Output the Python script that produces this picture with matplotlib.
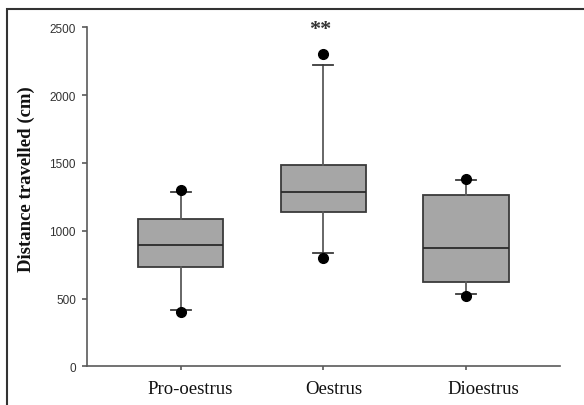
import matplotlib
matplotlib.use("Agg")
import matplotlib.pyplot as plt
from matplotlib.patches import Rectangle
from matplotlib.transforms import ScaledTranslation

# values
groups = ["Pro-oestrus", "Oestrus", "Dioestrus"]
q1 = [730, 1138, 619]
median = [895, 1283, 875]
q3 = [1084, 1487, 1263]
whislo = [417, 835, 531]
whishi = [1283, 2222, 1372]
outliers = [[400, 1300], [800, 2300], [520, 1380]]
yticks = [0, 500, 1000, 1500, 2000, 2500]

fig = plt.figure(figsize=(5.84, 4.06), dpi=100)
ax = fig.add_axes([87/584, 1 - 367.3/406, (560 - 87)/584, (367.3 - 28.3)/406])

stats = []
for i, g in enumerate(groups):
    stats.append(dict(label=g, q1=q1[i], med=median[i], q3=q3[i],
                      whislo=whislo[i], whishi=whishi[i], fliers=outliers[i]))

pos = [1, 2, 3]
ax.bxp(stats, positions=pos, widths=0.6, patch_artist=True,
       capwidths=0.14,
       boxprops=dict(facecolor="#a6a6a6", edgecolor="#3a3a3a", linewidth=1.3),
       medianprops=dict(color="#2a2a2a", linewidth=1.3),
       whiskerprops=dict(color="#5a5a5a", linewidth=1.3),
       capprops=dict(color="#3a3a3a", linewidth=1.3),
       flierprops=dict(marker="o", markerfacecolor="black", markeredgecolor="black",
                       markersize=7, linestyle="none"))

ax.set_xlim(0.345, 3.657)
ax.set_ylim(0, 2500)
ax.set_yticks(yticks)
ax.set_xticks(pos)
ax.set_xticklabels(groups, family="Liberation Serif", fontsize=13.5, color="#111111")
ax.set_yticklabels([str(t) for t in yticks], family="Liberation Sans", fontsize=8.5, color="#333333")

for sp in ["top", "right"]:
    ax.spines[sp].set_visible(False)
for sp in ["left", "bottom"]:
    ax.spines[sp].set_color("#5a5a5a")
    ax.spines[sp].set_linewidth(1.2)
ax.tick_params(axis="y", direction="out", length=3.6, width=1.2, color="#5a5a5a", pad=4.3)
ax.tick_params(axis="x", direction="out", length=2.9, width=1.2, color="#5a5a5a", pad=7)

# labels sit a little right of their ticks in the original
shifts = [10, 10, 17]
for lab, dx in zip(ax.get_xticklabels(), shifts):
    lab.set_transform(lab.get_transform() + ScaledTranslation(dx/100, 0, fig.dpi_scale_trans))

ax.set_ylabel("Distance travelled (cm)", family="Liberation Serif", fontweight="bold",
              fontsize=13.5, color="#111111")
ax.yaxis.set_label_coords(-0.109, 0.555)

ax.text(1.98, 2490, "**", ha="center", va="center", family="Liberation Serif",
        fontweight="bold", fontsize=16, color="#333333")

# outer frame around the whole figure
fig.patches.append(Rectangle((7/584, -0.05), 1, 1 - 10/406 + 0.05, transform=fig.transFigure,
                             fill=False, edgecolor="#333333", linewidth=1.5))

fig.savefig("out.png", dpi=100)
